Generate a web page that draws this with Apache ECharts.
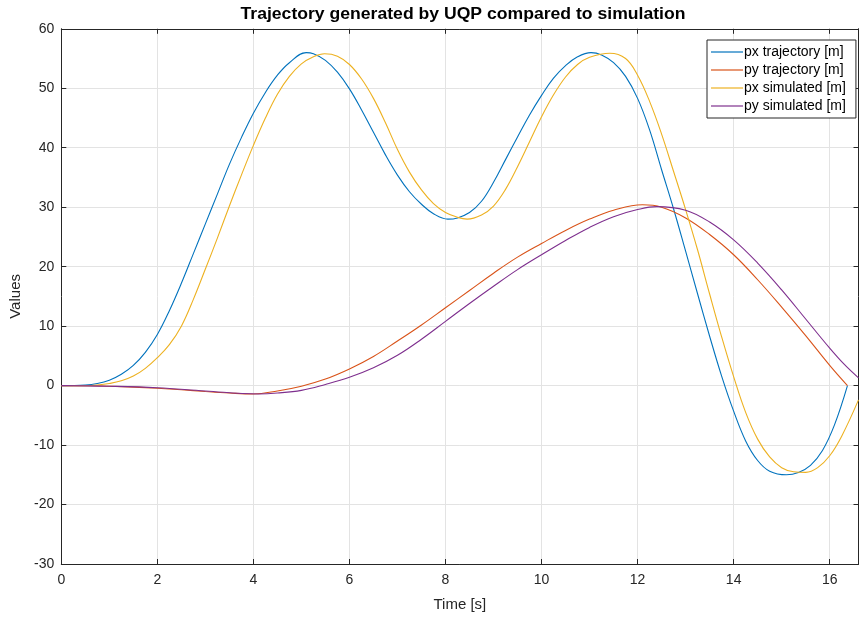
<!DOCTYPE html>
<html>
<head>
<meta charset="utf-8">
<title>Trajectory generated by UQP compared to simulation</title>
<script src="https://cdn.jsdelivr.net/npm/echarts@6/dist/echarts.min.js"></script>
<style>
  html, body { margin: 0; padding: 0; background: #ffffff; }
  #chart { width: 859px; height: 617px; }
</style>
</head>
<body>
<div id="chart"></div>
<script>
// Planned x position [m] over time [s]
const pxTrajTime = [0, 0.5, 0.75, 1, 1.25, 1.5, 1.75, 2, 2.25, 2.5, 2.75, 3, 3.25, 3.5, 3.75, 4, 4.25, 4.5, 4.75, 5.1,
  5.25, 5.5, 5.75, 6, 6.25, 6.5, 6.75, 7, 7.25, 7.5, 7.75, 8.05,
  8.25, 8.5, 8.75, 9, 9.25, 9.5, 9.75, 10, 10.25, 10.5, 10.75, 11.03,
  11.25, 11.5, 11.75, 12, 12.25, 12.5, 12.75, 13, 13.25, 13.5, 13.75, 14, 14.25, 14.5, 14.75, 15.1,
  15.35, 15.6, 15.85, 16.1, 16.37];
const pxTrajValues = [0, 0.1, 0.35, 0.9, 1.9, 3.4, 5.6, 8.6, 12.6, 17.2, 22.2, 27.2, 32.2, 37.2, 41.7, 45.8, 49.3, 52.2, 54.3, 56.0,
  55.8, 54.7, 52.7, 49.9, 46.4, 42.6, 38.8, 35.4, 32.6, 30.5, 28.9, 28.0,
  28.2, 29.1, 31.0, 34.2, 38.0, 41.8, 45.5, 48.8, 51.7, 53.8, 55.3, 56.0,
  55.6, 54.3, 52.0, 48.3, 43.0, 36.3, 29.7, 22.6, 15.4, 8.3, 1.6, -4.3, -9.3, -12.6, -14.4, -15.0,
  -14.6, -13.4, -10.9, -6.6, 0];

// Planned y position [m] over time [s]
const pyTrajTime = [0, 0.5, 1, 1.5, 2, 2.5, 3, 3.5, 4, 4.5, 5, 5.5, 6, 6.5, 7, 7.5, 8, 8.5, 9, 9.5, 10, 10.5, 11, 11.5, 12.1,
  12.5, 13, 13.5, 14, 14.5, 15, 15.5, 16, 16.37];
const pyTrajValues = [0, 0, -0.1, -0.25, -0.45, -0.7, -1.0, -1.25, -1.4, -0.9, -0.1, 1.1, 2.8, 4.9, 7.5, 10.2, 13.1, 16.0, 18.9, 21.6, 23.9, 26.1, 28.0, 29.5, 30.4,
  30.0, 28.2, 25.4, 22.0, 17.8, 13.2, 8.4, 3.4, 0];

// Simulated x position [m] over time [s]
const pxSimTime = [0, 0.5, 0.75, 1, 1.25, 1.5, 1.75, 2, 2.25, 2.5, 2.75, 3, 3.25, 3.5, 3.75, 4, 4.25, 4.5, 4.75, 5, 5.25, 5.48,
  5.75, 6, 6.25, 6.5, 6.75, 7, 7.25, 7.5, 7.75, 8, 8.25, 8.45,
  8.75, 9, 9.25, 9.5, 9.75, 10, 10.25, 10.5, 10.75, 11, 11.42,
  11.75, 12, 12.25, 12.5, 12.75, 13, 13.25, 13.5, 13.75, 14, 14.25, 14.5, 14.75, 15, 15.25, 15.5,
  15.75, 16, 16.25, 16.6];
const pxSimValues = [0, 0.0, 0.1, 0.35, 0.8, 1.6, 2.9, 4.7, 6.9, 10.0, 14.5, 19.6, 24.8, 30.2, 35.4, 40.4, 45.0, 49.0, 52.0, 54.1, 55.3, 55.8,
  55.4, 54.0, 51.6, 48.3, 44.2, 39.7, 35.9, 32.9, 30.6, 29.1, 28.3, 28.0,
  28.7, 30.2, 33.0, 36.8, 41.0, 45.2, 48.9, 51.9, 54.0, 55.2, 55.9,
  55.0, 52.2, 47.8, 42.3, 36.0, 29.6, 22.8, 15.4, 8.2, 1.5, -4.5, -9.0, -12.0, -13.8, -14.5, -14.6,
  -13.8, -11.8, -8.5, -2.4];

// Simulated y position [m] over time [s]
const pySimTime = [0, 1, 2, 3, 4.1, 4.5, 5, 5.5, 6, 6.5, 7, 7.5, 8, 8.5, 9, 9.5, 10, 10.5, 11, 11.5, 12, 12.4,
  13, 13.5, 14, 14.5, 15, 15.5, 16, 16.3, 16.6];
const pySimValues = [0, -0.1, -0.35, -0.9, -1.4, -1.25, -0.8, 0.2, 1.4, 3.0, 5.1, 7.8, 10.8, 13.8, 16.7, 19.5, 22.0, 24.4, 26.6, 28.4, 29.6, 30.1,
  29.5, 27.5, 24.5, 20.6, 16.1, 11.2, 6.3, 3.6, 1.3];

const seriesNames = ['px trajectory [m]', 'py trajectory [m]', 'px simulated [m]', 'py simulated [m]'];
const seriesColors = ['#0072BD', '#D95319', '#EDB120', '#7E2F8E'];

const xTicks = [0, 2, 4, 6, 8, 10, 12, 14, 16];
const yTicks = [-30, -20, -10, 0, 10, 20, 30, 40, 50, 60];

const chartTitle = 'Trajectory generated by UQP compared to simulation';

function pairs(t, v) {
  return t.map((x, i) => [x, v[i]]);
}

const curves = [
  pairs(pxTrajTime, pxTrajValues),
  pairs(pyTrajTime, pyTrajValues),
  pairs(pxSimTime, pxSimValues),
  pairs(pySimTime, pySimValues)
];

const FONT = '"Liberation Sans", Arial, Helvetica, sans-serif';
const AXIS_COLOR = '#262626';
const GRID_COLOR = '#e3e3e3';

const chart = echarts.init(document.getElementById('chart'), null, { renderer: 'canvas' });

const tickStyle = { show: true, inside: true, length: 5, lineStyle: { color: AXIS_COLOR, width: 1 } };

chart.setOption({
  backgroundColor: '#ffffff',
  animation: false,
  graphic: [
    {
      type: 'text',
      x: 463,
      y: 15,
      scaleX: 1.1,
      z: 10,
      style: {
        text: chartTitle,
        font: 'bold 16px ' + FONT,
        fill: '#000000',
        align: 'center',
        verticalAlign: 'middle'
      }
    }
  ],
  legend: {
    data: seriesNames,
    orient: 'vertical',
    left: 707,
    top: 40,
    padding: [5, 10, 5, 4],
    itemGap: 4,
    icon: 'rect',
    itemWidth: 32,
    itemHeight: 1.2,
    backgroundColor: '#ffffff',
    borderColor: AXIS_COLOR,
    borderWidth: 1,
    borderRadius: 0,
    textStyle: { fontFamily: FONT, fontSize: 14, color: '#000000', padding: [0, 0, 0, -4] }
  },
  grid: { left: 61.3, right: 0.5, top: 28.8, bottom: 52.9, containLabel: false },
  xAxis: [
    {
      type: 'value',
      min: 0,
      max: 16.6,
      interval: 2,
      name: 'Time [s]',
      nameLocation: 'middle',
      nameGap: 33,
      nameTextStyle: { fontFamily: FONT, fontSize: 15, color: '#262626' },
      axisLine: { show: true, onZero: false, lineStyle: { color: AXIS_COLOR, width: 1 } },
      axisTick: tickStyle,
      axisLabel: {
        fontFamily: FONT, fontSize: 14, color: '#262626', margin: 9,
        showMaxLabel: false,
        formatter: v => (xTicks.includes(v) ? String(v) : '')
      },
      splitLine: { show: true, lineStyle: { color: GRID_COLOR, width: 1 } }
    },
    {
      type: 'value',
      position: 'top',
      min: 0,
      max: 16.6,
      interval: 2,
      axisLine: { show: true, onZero: false, lineStyle: { color: AXIS_COLOR, width: 1 } },
      axisTick: tickStyle,
      axisLabel: { show: false },
      splitLine: { show: false }
    }
  ],
  yAxis: [
    {
      type: 'value',
      min: -30,
      max: 60,
      interval: 10,
      name: 'Values',
      nameLocation: 'middle',
      nameGap: 38,
      nameTextStyle: { fontFamily: FONT, fontSize: 15, color: '#262626' },
      axisLine: { show: true, onZero: false, lineStyle: { color: AXIS_COLOR, width: 1 } },
      axisTick: tickStyle,
      axisLabel: {
        fontFamily: FONT, fontSize: 14, color: '#262626', margin: 7,
        formatter: v => (yTicks.includes(v) ? String(v) : '')
      },
      splitLine: { show: true, lineStyle: { color: GRID_COLOR, width: 1 } }
    },
    {
      type: 'value',
      position: 'right',
      min: -30,
      max: 60,
      interval: 10,
      axisLine: { show: true, onZero: false, lineStyle: { color: AXIS_COLOR, width: 1 } },
      axisTick: tickStyle,
      axisLabel: { show: false },
      splitLine: { show: false }
    }
  ],
  series: curves.map((data, i) => ({
    name: seriesNames[i],
    type: 'line',
    xAxisIndex: 0,
    yAxisIndex: 0,
    data: data,
    smooth: 0.4,
    symbol: 'none',
    clip: true,
    lineStyle: { color: seriesColors[i], width: 1.1 },
    itemStyle: { color: seriesColors[i] },
    z: 2 + i
  }))
});
</script>
</body>
</html>
